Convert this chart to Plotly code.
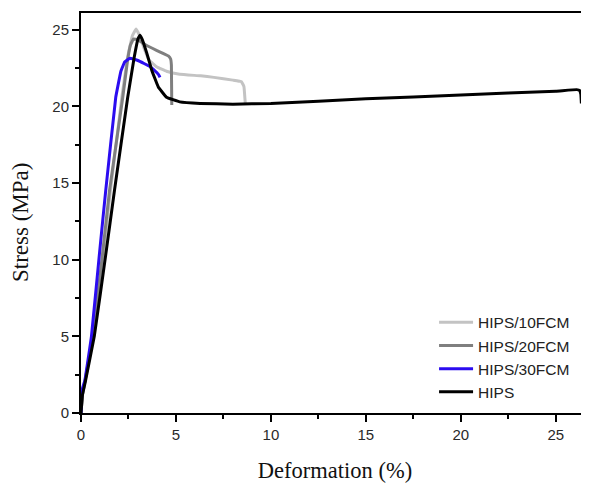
import plotly.graph_objects as go

# HIPS/10FCM
x10 = [0, 0.08, 0.2, 0.65, 1.15, 1.55, 2.15, 2.45, 2.7, 2.9, 3.1, 3.35, 3.6, 4.0, 4.5, 5.2, 6.3, 7.0, 8.0, 8.45, 8.58, 8.65]
y10 = [0, 1.2, 2.0, 5.0, 10.0, 14.5, 20.6, 23.2, 24.6, 25.05, 24.6, 23.7, 23.0, 22.57, 22.3, 22.1, 22.0, 21.9, 21.72, 21.62, 21.3, 20.2]
# HIPS/20FCM
x20 = [0, 0.08, 0.2, 0.62, 1.1, 1.5, 2.2, 2.45, 2.6, 2.76, 3.0, 3.46, 4.0, 4.6, 4.72, 4.76, 4.78]
y20 = [0, 1.2, 2.0, 5.0, 10.0, 14.5, 20.6, 23.0, 24.0, 24.4, 24.35, 23.98, 23.65, 23.3, 23.1, 22.7, 20.1]
# HIPS/30FCM
x30 = [0, 0.05, 0.2, 0.55, 0.98, 1.3, 1.83, 2.1, 2.3, 2.58, 3.0, 3.64, 4.0, 4.1, 4.16]
y30 = [0, 1.5, 2.1, 5.0, 10.5, 14.5, 20.6, 22.3, 22.9, 23.15, 23.0, 22.6, 22.2, 22.05, 21.9]
# HIPS
xh = [0, 0.08, 0.22, 0.7, 1.3, 1.76, 2.46, 2.8, 3.0, 3.1, 3.2, 3.46, 3.73, 4.07, 4.5, 5.2, 6.27, 8.0, 10.0, 15.0, 20.0, 25.0, 26.1, 26.25, 26.32, 26.35]
yh = [0, 1.2, 2.0, 5.0, 10.3, 14.5, 20.6, 23.2, 24.4, 24.65, 24.45, 23.5, 22.35, 21.27, 20.6, 20.3, 20.2, 20.15, 20.2, 20.5, 20.75, 21.0, 21.1, 21.05, 20.8, 20.2]

series = [
    ("HIPS/10FCM", x10, y10, "#c3c3c3"),
    ("HIPS/20FCM", x20, y20, "#7f7f7f"),
    ("HIPS/30FCM", x30, y30, "#2b0cf0"),
    ("HIPS", xh, yh, "#000000"),
]

fig = go.Figure()
for name, xs, ys, col in series:
    fig.add_trace(go.Scatter(x=xs, y=ys, mode="lines", name=name,
                             line=dict(color=col, width=3, shape="spline", smoothing=0.2)))

tickfont = dict(family="Liberation Sans, Arial", size=15, color="#2a2a2a")
fig.update_layout(
    width=589, height=489,
    margin=dict(l=73, r=8, t=3, b=84),
    paper_bgcolor="white", plot_bgcolor="white",
    showlegend=True,
    legend=dict(x=0.695, y=0.268, xanchor="left", yanchor="top",
                font=dict(family="Liberation Sans, Arial", size=15.5, color="#222222"),
                bgcolor="rgba(0,0,0,0)", itemwidth=34, tracegroupgap=0),
    xaxis=dict(range=[0, 26.75], tickvals=[0, 5, 10, 15, 20, 25],
               ticks="outside", ticklen=7, tickwidth=1.5, tickcolor="black",
               minor=dict(ticks="outside", ticklen=4, tickwidth=1.5, tickcolor="black", dtick=2.5, tick0=0),
               showline=True, linecolor="black", linewidth=2, mirror=True,
               showgrid=False, zeroline=False, tickfont=tickfont,
               title=dict(text="Deformation (%)", font=dict(family="Liberation Serif, Times New Roman", size=22.5, color="#111111"), standoff=20)),
    yaxis=dict(range=[0, 26.1], tickvals=[0, 5, 10, 15, 20, 25],
               ticks="outside", ticklen=7, tickwidth=1.5, tickcolor="black",
               minor=dict(ticks="outside", ticklen=4, tickwidth=1.5, tickcolor="black", dtick=2.5, tick0=0),
               showline=True, linecolor="black", linewidth=2,
               showgrid=False, zeroline=False, tickfont=tickfont),
)
fig.add_annotation(text="Stress (MPa)", textangle=-90, xref="paper", yref="paper",
                   x=-0.12, y=0.475, xanchor="center", yanchor="middle", showarrow=False,
                   font=dict(family="Liberation Serif, Times New Roman", size=23, color="#111111"))
fig.write_html("out.html")
